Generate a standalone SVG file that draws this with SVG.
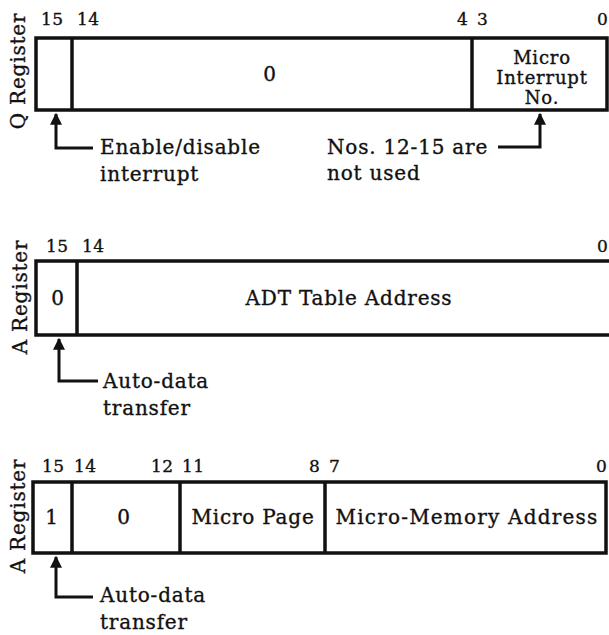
<svg xmlns="http://www.w3.org/2000/svg" width="609" height="635" viewBox="0 0 609 635">
<defs>
<style>
text{font-family:"DejaVu Serif","Liberation Serif",serif;fill:#111;stroke:#111;stroke-width:0.35px;}
.t{font-size:20px;letter-spacing:0.8px;}
.n{font-size:17px;letter-spacing:0.5px;}
.s{font-size:18px;letter-spacing:0.8px;}
.m{text-anchor:middle;}
.box{fill:#fff;stroke:#111;stroke-width:3.5;}
.div{stroke:#111;stroke-width:3.5;}
.ln{fill:none;stroke:#111;stroke-width:3;}
</style>
<marker id="ah" viewBox="0 0 10 10" refX="9" refY="5" markerWidth="6" markerHeight="4" markerUnits="strokeWidth" orient="auto">
<path d="M0,0 L10,5 L0,10 Z" fill="#111"/>
</marker>
</defs>
<rect width="609" height="635" fill="#fff"/>

<g id="q-register">
<text class="t m" transform="translate(25,71) rotate(-90)">Q Register</text>
<text class="n" x="41" y="25">15</text>
<text class="n" x="77" y="25">14</text>
<text class="n" x="457" y="25">4</text>
<text class="n" x="477" y="25">3</text>
<text class="n" x="597" y="25">0</text>
<rect class="box" x="36" y="38" width="571" height="72"/>
<line class="div" x1="72" y1="38" x2="72" y2="110"/>
<line class="div" x1="472" y1="38" x2="472" y2="110"/>
<text class="t m" x="270" y="81">0</text>
<text class="s m" x="542" y="64">Micro</text>
<text class="s m" x="542" y="84">Interrupt</text>
<text class="s m" x="542" y="104">No.</text>
<text class="t" x="100" y="154">Enable/disable</text>
<text class="t" x="100" y="181">interrupt</text>
<text class="t" x="327" y="154">Nos. 12-15 are</text>
<text class="t" x="327" y="180">not used</text>
</g>

<g id="a-register-1">
<text class="t m" transform="translate(27,297) rotate(-90)">A Register</text>
<text class="n" x="46" y="252">15</text>
<text class="n" x="82" y="252">14</text>
<text class="n" x="597" y="252">0</text>
<rect class="box" x="36" y="261" width="575" height="74"/>
<line class="div" x1="77" y1="261" x2="77" y2="335"/>
<text class="t m" x="58" y="305">0</text>
<text class="t m" x="349" y="305">ADT Table Address</text>
<text class="t" x="103" y="388">Auto-data</text>
<text class="t" x="103" y="415">transfer</text>
</g>

<g id="a-register-2">
<text class="t m" transform="translate(25,516) rotate(-90)">A Register</text>
<text class="n" x="42" y="472">15</text>
<text class="n" x="74" y="472">14</text>
<text class="n" x="151" y="472">12</text>
<text class="n" x="182" y="472">11</text>
<text class="n" x="309" y="472">8</text>
<text class="n" x="329" y="472">7</text>
<text class="n" x="596" y="472">0</text>
<rect class="box" x="33" y="482" width="573" height="71"/>
<line class="div" x1="72" y1="482" x2="72" y2="553"/>
<line class="div" x1="180" y1="482" x2="180" y2="553"/>
<line class="div" x1="325" y1="482" x2="325" y2="553"/>
<text class="t m" x="52" y="524">1</text>
<text class="t m" x="124" y="524">0</text>
<text class="t m" x="253" y="524">Micro Page</text>
<text class="t m" x="467" y="524" style="letter-spacing:1.2px">Micro-Memory Address</text>
<text class="t" x="100" y="602">Auto-data</text>
<text class="t" x="100" y="629">transfer</text>
</g>

<g id="connectors">
<path class="ln" d="M93,148 H56 V114" marker-end="url(#ah)"/>
<path class="ln" d="M498,147 H540 V114" marker-end="url(#ah)"/>
<path class="ln" d="M98,381 H59 V339" marker-end="url(#ah)"/>
<path class="ln" d="M93,597 H56 V557" marker-end="url(#ah)"/>
</g>
</svg>
